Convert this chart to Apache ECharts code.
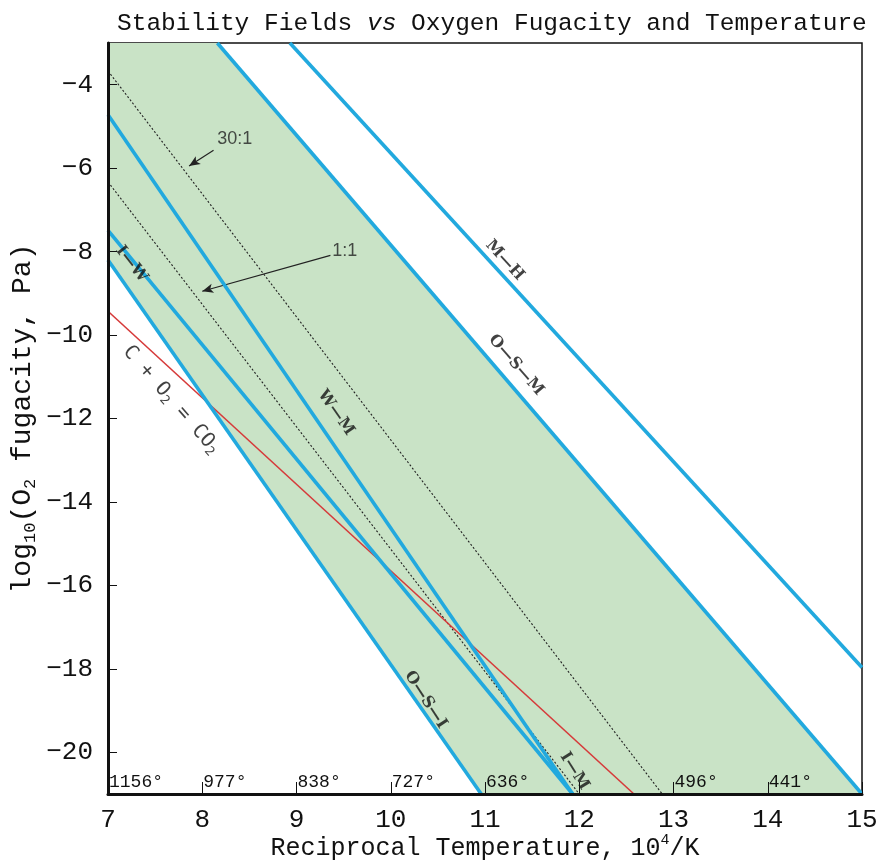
<!DOCTYPE html>
<html>
<head>
<meta charset="utf-8">
<script src="https://cdn.jsdelivr.net/npm/echarts@6/dist/echarts.min.js"></script>
<style>
  html, body { margin: 0; padding: 0; background: #fff; }
  #chart { width: 880px; height: 867px; }
</style>
</head>
<body>
<div id="chart"></div>
<script>
// Axis ranges and ticks
const xRange = [7, 15];
const yRange = [-21, -3];
const yTicks = [-20, -18, -16, -14, -12, -10, -8, -6, -4];
const tempTicks = [7, 8, 9, 10, 11, 13, 14];
const tempLabels = ['1156°', '977°', '838°', '727°', '636°', '496°', '441°'];

// Buffer equilibria, end points [1e4/K, log10 fO2]
const mhLine = [[8.93, -3], [15, -17.97]];
const osmLine = [[8.16, -3], [15, -21]];
const wmLine = [[7, -4.72], [11.93, -21]];
const iwLine = [[7, -7.49], [11.93, -21]];
const osiLine = [[7, -8.2], [10.96, -21]];
const co2Line = [[7, -9.43], [12.58, -21]];
const ratio30Line = [[7, -3.67], [12.88, -21]];
const ratio1Line = [[7, -6.33], [12.0, -21]];

// Arrows pointing at the gas-ratio lines: [tail, head]
const arrow30 = [[8.12, -5.57], [7.86, -5.95]];
const arrow1 = [[9.36, -8.09], [8.0, -8.95]];
const ratioText = [
  { text: '30:1', at: [8.16, -5.3] },
  { text: '1:1', at: [9.38, -7.98] }
];

// Curve names set along each line: text, position, angle
const curveNames = [
  { text: 'M—H', at: [11.21, -8.21], angle: -47.5 },
  { text: 'O—S—M', at: [11.33, -10.72], angle: -49 },
  { text: 'W—M', at: [9.42, -11.86], angle: -55 },
  { text: 'I—W', at: [7.25, -8.3], angle: -52 },
  { text: 'O—S—I', at: [10.37, -18.74], angle: -57 },
  { text: 'I—M', at: [11.95, -20.45], angle: -58 }
];
const co2Name = { text: 'C + O{s|2} = CO{s|2}', at: [7.67, -11.55], angle: -49 };

const BLUE = '#22a9de';
const GREEN = '#c9e3c6';
const INK = '#111';
const MONO = '"Liberation Mono", monospace';
const SERIF = '"DejaVu Serif", serif';

// Olivine-silica field: between O-S-M above and O-S-I below
const fieldPolygon = [
  [xRange[0], yRange[1]],
  osmLine[0],
  osmLine[1],
  [xRange[1], yRange[0]],
  osiLine[1],
  osiLine[0]
];

function lineSeries(name, pts, color, width, type, z) {
  return {
    name: name,
    type: 'line',
    data: pts,
    showSymbol: false,
    symbol: 'none',
    clip: true,
    z: z,
    lineStyle: { color: color, width: width, type: type },
    silent: true
  };
}

const chart = echarts.init(document.getElementById('chart'), null, { renderer: 'canvas' });

const option = {
  animation: false,
  backgroundColor: '#fff',
  title: {
    text: 'Stability Fields {i|vs} Oxygen Fugacity and Temperature',
    left: 112,
    top: 6,
    textStyle: {
      fontFamily: MONO,
      fontSize: 24.5,
      fontWeight: 'normal',
      color: INK,
      rich: {
        i: { fontFamily: MONO, fontSize: 24.5, fontStyle: 'italic', color: INK }
      }
    }
  },
  grid: {
    left: 108, right: 18, top: 43, bottom: 73,
    containLabel: false, outerBoundsMode: 'none',
    show: true, borderColor: INK, borderWidth: 1.5, backgroundColor: 'transparent'
  },
  xAxis: [
    {
      type: 'value', min: xRange[0], max: xRange[1], interval: 1, z: 20,
      name: 'Reciprocal Temperature, 10{p|4}/K',
      nameLocation: 'middle', nameGap: 39, nameMoveOverlap: false,
      nameTextStyle: {
        fontFamily: MONO, fontSize: 25, color: INK, lineHeight: 30,
        rich: { p: { fontFamily: MONO, fontSize: 15, lineHeight: 15, verticalAlign: 'top', color: INK } }
      },
      axisLine: { show: true, lineStyle: { color: INK, width: 3 } },
      axisTick: { show: true, inside: true, length: 12, lineStyle: { color: INK, width: 1 } },
      axisLabel: { fontFamily: MONO, fontSize: 26, color: INK, margin: 13 },
      splitLine: { show: false }
    },
    {
      type: 'value', min: xRange[0], max: xRange[1], position: 'bottom', z: 20,
      axisLine: { show: false }, axisTick: { show: false }, splitLine: { show: false },
      axisLabel: {
        inside: true, customValues: tempTicks, margin: 3, align: 'left',
        padding: [0, 0, 0, 1],
        fontFamily: MONO, fontSize: 18, color: INK,
        formatter: function (v) {
          const i = tempTicks.indexOf(v);
          return i >= 0 ? tempLabels[i] : '';
        }
      }
    }
  ],
  yAxis: {
    type: 'value', min: yRange[0], max: yRange[1], z: 20,
    name: 'log{s|10}(O{s|2} fugacity, Pa)',
    nameLocation: 'middle', nameGap: 69, nameRotate: 90, nameMoveOverlap: false,
    nameTextStyle: {
      fontFamily: MONO, fontSize: 28, color: INK, lineHeight: 32,
      rich: { s: { fontFamily: MONO, fontSize: 17, lineHeight: 17, verticalAlign: 'bottom', color: INK } }
    },
    axisLine: { show: true, lineStyle: { color: INK, width: 3 } },
    axisTick: { show: true, inside: true, length: 9, customValues: yTicks, lineStyle: { color: INK, width: 1 } },
    axisLabel: {
      customValues: yTicks, fontFamily: MONO, fontSize: 26, color: INK, margin: 15,
      formatter: function (v) { return String(v).replace('-', '\u2212'); }
    },
    splitLine: { show: false }
  },
  series: [
    {
      name: 'field',
      type: 'custom',
      data: [0],
      z: 1,
      silent: true,
      renderItem: function (params, api) {
        const pts = fieldPolygon.map(function (p) { return api.coord(p); });
        return { type: 'polygon', shape: { points: pts }, style: { fill: GREEN } };
      }
    },
    lineSeries('30:1', ratio30Line, '#222', 1.1, [2, 2], 3),
    lineSeries('1:1', ratio1Line, '#222', 1.1, [2, 2], 3),
    lineSeries('C + O2 = CO2', co2Line, '#d63a3a', 1.6, 'solid', 4),
    lineSeries('M-H', mhLine, BLUE, 3.6, 'solid', 5),
    lineSeries('O-S-M', osmLine, BLUE, 3.6, 'solid', 5),
    lineSeries('W-M', wmLine, BLUE, 3.6, 'solid', 5),
    lineSeries('I-W', iwLine, BLUE, 3.6, 'solid', 5),
    lineSeries('O-S-I', osiLine, BLUE, 3.6, 'solid', 5),
    {
      name: 'arrows',
      type: 'line',
      data: [],
      z: 6,
      markLine: {
        silent: true,
        animation: false,
        symbol: ['none', 'arrow'],
        symbolSize: [7, 11],
        label: { show: false },
        lineStyle: { color: '#222', width: 1.2, type: 'solid' },
        data: [
          [{ coord: arrow30[0] }, { coord: arrow30[1] }],
          [{ coord: arrow1[0] }, { coord: arrow1[1] }]
        ]
      }
    },
    {
      name: 'ratio labels',
      type: 'scatter',
      z: 7,
      symbolSize: 0,
      silent: true,
      data: ratioText.map(function (d) {
        return { value: d.at, name: d.text };
      }),
      label: {
        show: true, position: 'right', distance: 0,
        formatter: '{b}',
        fontFamily: '"Liberation Sans", sans-serif', fontSize: 18, color: '#222'
      }
    },
    {
      name: 'curve names',
      type: 'scatter',
      z: 7,
      symbolSize: 0,
      silent: true,
      data: curveNames.map(function (d) {
        return { value: d.at, name: d.text, label: { rotate: d.angle } };
      }),
      label: {
        show: true, position: 'inside',
        formatter: '{b}',
        fontFamily: SERIF, fontSize: 16, fontWeight: 'bold', color: INK
      }
    },
    {
      name: 'reaction name',
      type: 'scatter',
      z: 7,
      symbolSize: 0,
      silent: true,
      data: [{ value: co2Name.at, name: co2Name.text, label: { rotate: co2Name.angle } }],
      label: {
        show: true, position: 'inside',
        formatter: '{b}',
        fontFamily: '"DejaVu Sans Mono", monospace', fontSize: 20, color: INK,
        lineHeight: 24,
        rich: { s: { fontFamily: '"DejaVu Sans Mono", monospace', fontSize: 13, lineHeight: 13, verticalAlign: 'bottom', color: INK } }
      }
    }
  ]
};

chart.setOption(option);
</script>
</body>
</html>
